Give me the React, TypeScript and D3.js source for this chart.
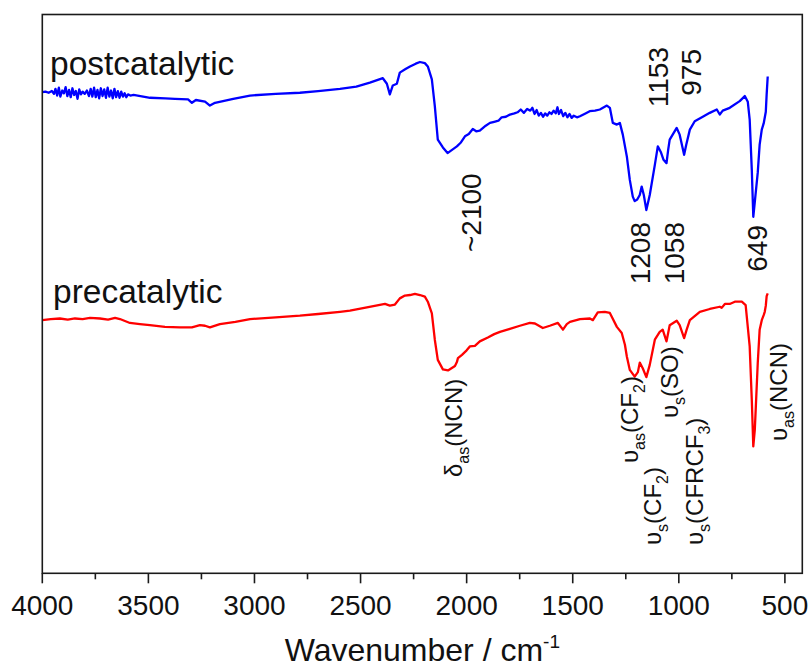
import React from "react";
import * as d3 from "d3";

// FTIR spectra: [wavenumber (cm-1), transmittance (a.u., offset)]
const postcatalytic: [number, number][] = [
  [4000, 86.1], [3985, 86.2], [3970, 86.0], [3955, 86.3], [3945, 85.8], [3938, 86.7], [3930, 85.5],
  [3922, 86.9], [3915, 85.3], [3906, 86.4], [3898, 85.9], [3890, 87.0], [3882, 85.4], [3874, 86.5],
  [3866, 85.2], [3858, 86.8], [3850, 85.6], [3842, 86.3], [3834, 84.9], [3826, 86.6], [3818, 85.7],
  [3810, 86.2], [3800, 85.8], [3790, 86.4], [3780, 85.4], [3772, 86.7], [3764, 85.3], [3756, 86.9],
  [3748, 85.2], [3740, 86.5], [3732, 85.0], [3724, 86.8], [3716, 85.4], [3708, 86.6], [3700, 85.1],
  [3692, 86.9], [3684, 85.3], [3676, 86.4], [3668, 85.0], [3660, 86.7], [3652, 85.2], [3644, 86.3],
  [3636, 85.1], [3628, 86.2], [3620, 85.3], [3612, 85.9], [3604, 85.2], [3596, 85.7], [3585, 85.5],
  [3570, 85.6], [3492, 85.1], [3420, 85.0], [3375, 84.9], [3313, 84.8], [3295, 84.2], [3276, 84.7],
  [3233, 84.4], [3210, 83.7], [3186, 84.2], [3100, 84.9], [3021, 85.5], [2900, 85.8], [2786, 86.0],
  [2700, 86.3], [2597, 86.7], [2520, 87.1], [2456, 87.8], [2395, 88.6], [2376, 87.6], [2362, 85.7],
  [2348, 87.3], [2329, 87.6], [2315, 89.6], [2290, 90.2], [2267, 90.7], [2240, 91.2], [2220, 91.5],
  [2197, 91.3], [2183, 90.7], [2164, 88.4], [2150, 83.6], [2136, 77.6], [2112, 76.2], [2090, 75.2],
  [2046, 76.4], [2027, 77.1], [2008, 78.2], [1990, 78.6], [1971, 79.5], [1955, 79.1], [1938, 79.2],
  [1910, 80.1], [1890, 80.6], [1870, 80.8], [1850, 81.0], [1835, 81.6], [1815, 81.7], [1796, 82.1],
  [1775, 82.3], [1760, 82.5], [1745, 83.0], [1730, 82.4], [1715, 83.1], [1700, 82.8],
  [1690, 83.3], [1680, 82.2], [1670, 82.9], [1660, 81.9], [1650, 82.4], [1640, 81.7], [1630, 82.3],
  [1620, 81.9], [1610, 82.5], [1600, 82.2], [1590, 82.8], [1580, 82.3], [1572, 83.4], [1565, 82.2],
  [1555, 82.9], [1545, 81.8], [1535, 82.4], [1525, 81.6], [1515, 82.2], [1505, 81.5], [1495, 81.9],
  [1480, 81.6], [1466, 81.8], [1440, 82.3], [1420, 82.7], [1395, 82.8], [1372, 83.0], [1339, 83.7],
  [1325, 83.3], [1311, 80.6], [1292, 80.3], [1278, 80.6], [1264, 78.5], [1245, 74.6], [1231, 70.4],
  [1217, 67.4], [1208, 66.6], [1196, 66.9], [1184, 67.7], [1175, 69.2], [1165, 67.7], [1153, 65.0],
  [1137, 67.7], [1113, 73.1], [1099, 76.4], [1085, 75.4], [1072, 74.0], [1058, 73.4], [1050, 75.8],
  [1043, 77.6], [1010, 79.7], [996, 78.5], [975, 74.9], [965, 76.7], [948, 79.4], [925, 80.9],
  [887, 81.7], [854, 82.4], [821, 83.0], [807, 82.1], [793, 82.8], [760, 83.3], [713, 84.5],
  [689, 85.4], [675, 84.4], [666, 81.2], [656, 72.2], [649, 63.8], [641, 66.8], [628, 71.7],
  [619, 76.7], [609, 79.4], [600, 80.5], [590, 82.6], [586, 85.7], [581, 88.9],
];

const precatalytic: [number, number][] = [
  [4000, 45.3], [3960, 45.5], [3917, 45.6], [3880, 45.4], [3846, 45.6], [3810, 45.5], [3775, 45.7],
  [3728, 45.6], [3690, 45.4], [3657, 45.7], [3634, 45.5], [3587, 44.8], [3540, 44.6], [3493, 44.4],
  [3422, 44.1], [3351, 44.0], [3295, 44.0], [3257, 44.4], [3233, 44.3], [3210, 44.0], [3163, 44.6],
  [3090, 45.0], [3021, 45.5], [2900, 45.8], [2786, 46.1], [2700, 46.4], [2597, 46.8], [2550, 47.0],
  [2470, 47.6], [2385, 48.2], [2362, 47.9], [2338, 48.1], [2315, 49.2], [2291, 49.7], [2267, 49.8],
  [2244, 50.0], [2220, 49.8], [2197, 49.5], [2183, 48.6], [2164, 46.5], [2150, 41.8], [2136, 38.2],
  [2112, 36.5], [2088, 36.3], [2055, 37.1], [2046, 37.8], [2041, 38.5], [2022, 39.1], [2000, 39.9],
  [1985, 40.6], [1961, 40.7], [1938, 41.5], [1900, 42.2], [1870, 42.8], [1843, 43.2], [1800, 43.7],
  [1749, 44.3], [1702, 44.8], [1678, 44.7], [1641, 43.9], [1608, 44.3], [1570, 44.8], [1546, 43.6],
  [1528, 44.6], [1513, 45.0], [1466, 45.5], [1419, 45.6], [1405, 45.3], [1382, 46.7], [1349, 46.8],
  [1325, 46.6], [1316, 45.9], [1292, 44.1], [1269, 43.0], [1254, 40.9], [1245, 38.8], [1231, 36.4],
  [1208, 35.2], [1193, 36.0], [1184, 37.7], [1170, 36.7], [1153, 35.1], [1137, 37.3], [1113, 41.8],
  [1090, 43.2], [1076, 43.6], [1058, 41.5], [1043, 44.4], [1010, 45.2], [996, 44.4], [975, 42.1],
  [963, 43.6], [948, 45.3], [901, 46.8], [854, 47.3], [807, 47.7], [798, 47.5], [783, 48.2],
  [760, 48.2], [736, 48.6], [703, 48.6], [685, 48.0], [666, 40.6], [656, 31.0], [649, 22.7],
  [642, 25.6], [637, 29.8], [628, 37.6], [619, 43.6], [609, 45.3], [600, 46.2], [595, 46.8],
  [590, 47.9], [586, 49.6], [581, 50.1],
];

const majorTicks = [4000, 3500, 3000, 2500, 2000, 1500, 1000, 500];
const minorTicks = [3750, 3250, 2750, 2250, 1750, 1250, 750];

const W = 812;
const H = 669;
const left = 42.3;
const right = 802.3;
const top = 14.5;
const bottom = 573.3;

const FONT = "'Liberation Sans', Arial, Helvetica, sans-serif";

type Part = { t: string; sub?: boolean };

// Rotated annotation; anchored at (x = baseline, y) reading bottom to top
function VLabel({ x, y, parts, size, anchor = "start" }: { x: number; y: number; parts: Part[]; size: number; anchor?: string }) {
  const subSize = Math.round(size * 0.65);
  const shift = Math.round(size * 0.28);
  let prevSub = false;
  return (
    <text
      transform={`translate(${x},${y}) rotate(-90)`}
      fontFamily={FONT}
      fontSize={size}
      textAnchor={anchor}
      fill="#111"
    >
      {parts.map((p, i) => {
        let dy = 0;
        if (p.sub && !prevSub) dy = shift;
        if (!p.sub && prevSub) dy = -shift;
        prevSub = !!p.sub;
        return (
          <tspan key={i} dy={dy} fontSize={p.sub ? subSize : size}>
            {p.t}
          </tspan>
        );
      })}
    </text>
  );
}

export default function App() {
  const x = d3.scaleLinear().domain([4000, 418]).range([left, right]);
  const y = d3.scaleLinear().domain([0, 100]).range([bottom, top]);
  const line = d3
    .line<[number, number]>()
    .x((d) => x(d[0]))
    .y((d) => y(d[1]));

  return (
    <svg width={W} height={H} style={{ display: "block", position: "absolute", left: 0, top: 0, background: "#fff" }}>
      <rect x={0} y={0} width={W} height={H} fill="#fff" />
      <path d={line(postcatalytic) ?? ""} fill="none" stroke="#0000ff" strokeWidth={2.3} strokeLinejoin="round" />
      <path d={line(precatalytic) ?? ""} fill="none" stroke="#ff0000" strokeWidth={2.3} strokeLinejoin="round" />

      <rect x={left} y={top} width={right - left} height={bottom - top} fill="none" stroke="#1a1a1a" strokeWidth={1.6} />

      {majorTicks.map((t) => (
        <g key={t}>
          <line x1={x(t)} x2={x(t)} y1={bottom} y2={bottom + 10} stroke="#1a1a1a" strokeWidth={1.6} />
          <text x={x(t)} y={615} textAnchor="middle" fontFamily={FONT} fontSize={28} fill="#111">
            {t}
          </text>
        </g>
      ))}
      {minorTicks.map((t) => (
        <line key={t} x1={x(t)} x2={x(t)} y1={bottom} y2={bottom + 6} stroke="#1a1a1a" strokeWidth={1.6} />
      ))}

      <text x={(left + right) / 2} y={661} textAnchor="middle" fontFamily={FONT} fontSize={32} fill="#111">
        Wavenumber / cm
        <tspan fontSize={19} dy={-13}>-1</tspan>
      </text>

      <text x={50} y={75} fontFamily={FONT} fontSize={33.5} fill="#111">postcatalytic</text>
      <text x={53} y={303} fontFamily={FONT} fontSize={33.5} fill="#111">precatalytic</text>

      <VLabel x={481} y={252} size={28} parts={[{ t: "~2100" }]} />
      <VLabel x={668} y={47} size={28} anchor="end" parts={[{ t: "1153" }]} />
      <VLabel x={701} y={49} size={28} anchor="end" parts={[{ t: "975" }]} />
      <VLabel x={650} y={222} size={28} anchor="end" parts={[{ t: "1208" }]} />
      <VLabel x={684} y={222} size={28} anchor="end" parts={[{ t: "1058" }]} />
      <VLabel x={767} y={225} size={28} anchor="end" parts={[{ t: "649" }]} />

      <VLabel x={462} y={477} size={24} parts={[{ t: "δ" }, { t: "as", sub: true }, { t: "(NCN)" }]} />
      <VLabel x={638} y={463} size={24} parts={[{ t: "υ" }, { t: "as", sub: true }, { t: "(CF" }, { t: "2", sub: true }, { t: ")" }]} />
      <VLabel x={661} y={545} size={24} parts={[{ t: "υ" }, { t: "s", sub: true }, { t: "(CF" }, { t: "2", sub: true }, { t: ")" }]} />
      <VLabel x={678} y={418} size={24} parts={[{ t: "υ" }, { t: "s", sub: true }, { t: "(SO)" }]} />
      <VLabel x={703} y={545} size={24} parts={[{ t: "υ" }, { t: "s", sub: true }, { t: "(CFRCF" }, { t: "3", sub: true }, { t: ")" }]} />
      <VLabel x={787} y={441} size={24} parts={[{ t: "υ" }, { t: "as", sub: true }, { t: "(NCN)" }]} />
    </svg>
  );
}
